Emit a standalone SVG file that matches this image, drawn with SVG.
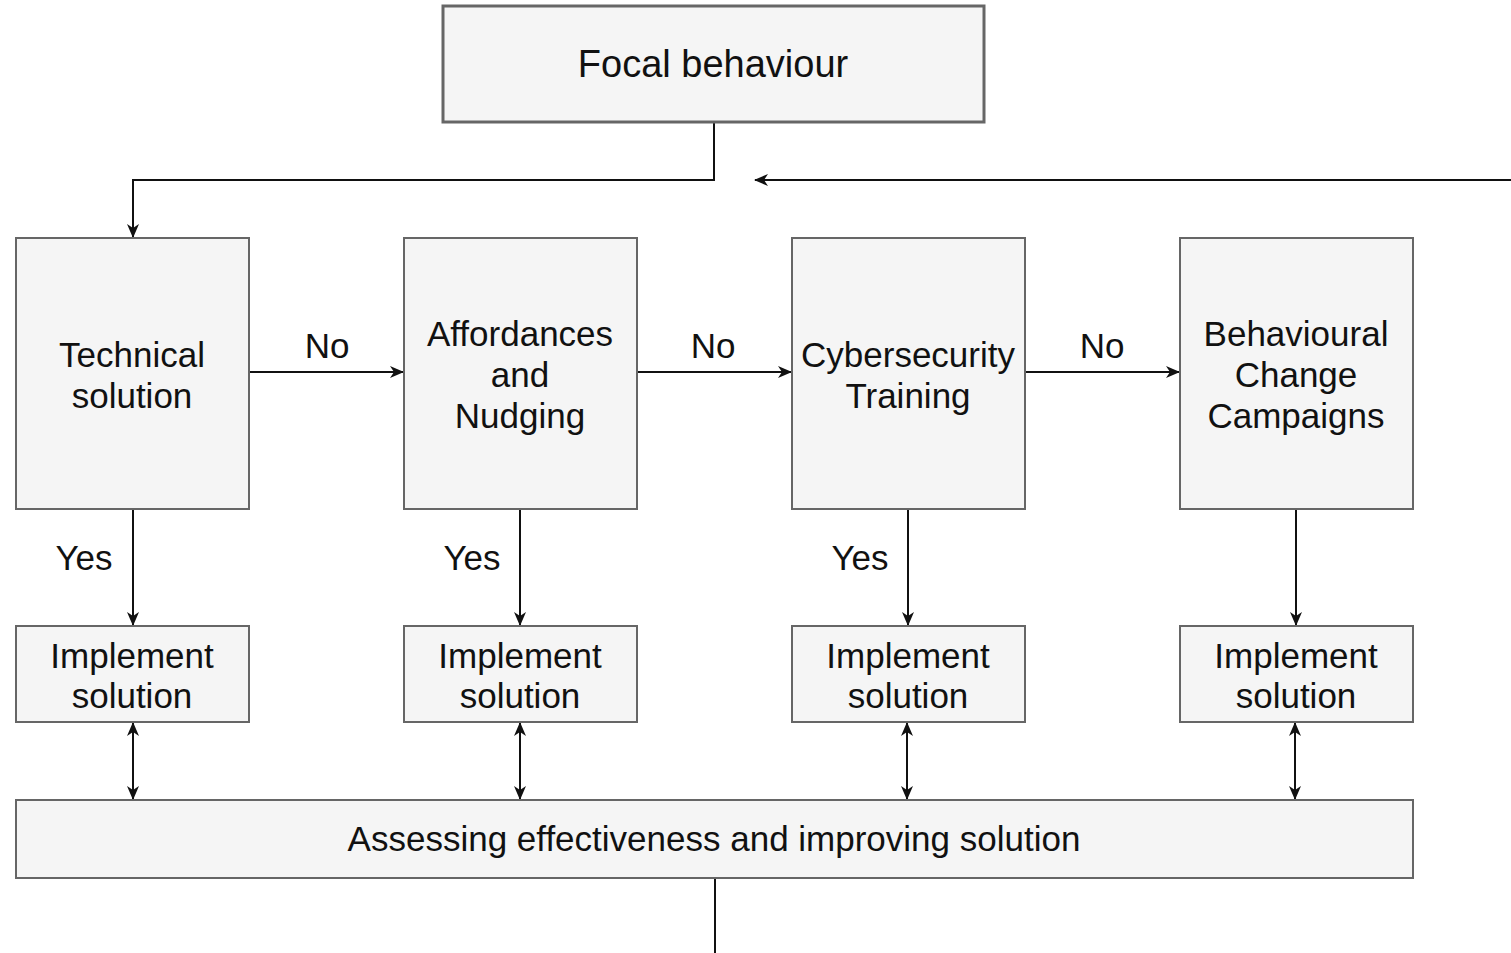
<svg xmlns="http://www.w3.org/2000/svg" width="1511" height="953" viewBox="0 0 1511 953">
<style>
.box{fill:#f5f5f5;stroke:#666;stroke-width:2}
.t{font-family:"Liberation Sans",Arial,sans-serif;font-size:35px;fill:#111;text-anchor:middle}
.c{fill:none;stroke:#111;stroke-width:2}
</style>
<defs>
<marker id="ah" viewBox="0 0 14 12" refX="13" refY="6" markerWidth="14" markerHeight="12" markerUnits="userSpaceOnUse" orient="auto-start-reverse">
<path d="M0,0 L14,6 L0,12 L4,6 Z" fill="#111"/>
</marker>
</defs>
<rect width="1511" height="953" fill="#fff"/>
<g id="connectors">
<path class="c" d="M714,122 V180 H133 V237" marker-end="url(#ah)"/>
<path class="c" d="M1511,180 H755" marker-end="url(#ah)"/>
<path class="c" d="M249,372 H403" marker-end="url(#ah)"/>
<path class="c" d="M637,372 H791" marker-end="url(#ah)"/>
<path class="c" d="M1025,372 H1179" marker-end="url(#ah)"/>
<path class="c" d="M133,509 V625" marker-end="url(#ah)"/>
<path class="c" d="M520,509 V625" marker-end="url(#ah)"/>
<path class="c" d="M908,509 V625" marker-end="url(#ah)"/>
<path class="c" d="M1296,509 V625" marker-end="url(#ah)"/>
<path class="c" d="M133,723 V799" marker-start="url(#ah)" marker-end="url(#ah)"/>
<path class="c" d="M520,723 V799" marker-start="url(#ah)" marker-end="url(#ah)"/>
<path class="c" d="M907,723 V799" marker-start="url(#ah)" marker-end="url(#ah)"/>
<path class="c" d="M1295,723 V799" marker-start="url(#ah)" marker-end="url(#ah)"/>
<path class="c" d="M715,878 V953"/>
<text class="t" x="327" y="358">No</text>
<text class="t" x="713" y="358">No</text>
<text class="t" x="1102" y="358">No</text>
<text class="t" x="84" y="570">Yes</text>
<text class="t" x="472" y="570">Yes</text>
<text class="t" x="860" y="570">Yes</text>
</g>
<g id="focal">
<rect class="box" x="443" y="6" width="541" height="116" style="stroke-width:3"/>
<text class="t" x="713" y="77" style="font-size:38px">Focal behaviour</text>
</g>
<g id="technical">
<rect class="box" x="16" y="238" width="233" height="271"/>
<text class="t" x="132" y="367">Technical</text>
<text class="t" x="132" y="408">solution</text>
</g>
<g id="affordances">
<rect class="box" x="404" y="238" width="233" height="271"/>
<text class="t" x="520" y="346">Affordances</text>
<text class="t" x="520" y="387">and</text>
<text class="t" x="520" y="428">Nudging</text>
</g>
<g id="training">
<rect class="box" x="792" y="238" width="233" height="271"/>
<text class="t" x="908" y="367">Cybersecurity</text>
<text class="t" x="908" y="408">Training</text>
</g>
<g id="campaigns">
<rect class="box" x="1180" y="238" width="233" height="271"/>
<text class="t" x="1296" y="346">Behavioural</text>
<text class="t" x="1296" y="387">Change</text>
<text class="t" x="1296" y="428">Campaigns</text>
</g>
<g id="impl1">
<rect class="box" x="16" y="626" width="233" height="96"/>
<text class="t" x="132" y="668">Implement</text>
<text class="t" x="132" y="708">solution</text>
</g>
<g id="impl2">
<rect class="box" x="404" y="626" width="233" height="96"/>
<text class="t" x="520" y="668">Implement</text>
<text class="t" x="520" y="708">solution</text>
</g>
<g id="impl3">
<rect class="box" x="792" y="626" width="233" height="96"/>
<text class="t" x="908" y="668">Implement</text>
<text class="t" x="908" y="708">solution</text>
</g>
<g id="impl4">
<rect class="box" x="1180" y="626" width="233" height="96"/>
<text class="t" x="1296" y="668">Implement</text>
<text class="t" x="1296" y="708">solution</text>
</g>
<g id="assess">
<rect class="box" x="16" y="800" width="1397" height="78"/>
<text class="t" x="714" y="851">Assessing effectiveness and improving solution</text>
</g>
</svg>
